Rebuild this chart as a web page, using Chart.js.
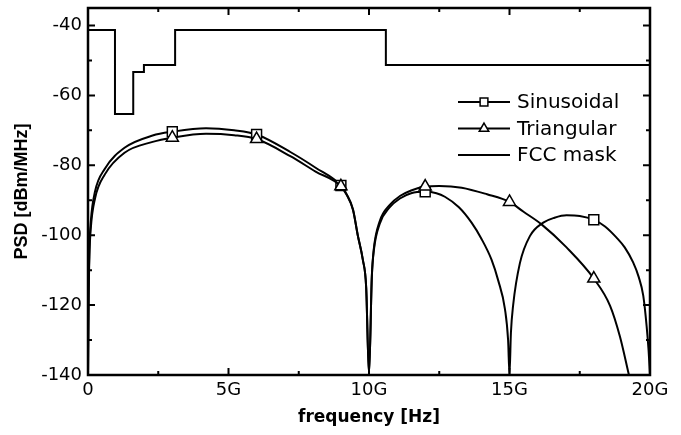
<!DOCTYPE html>
<html>
<head>
<meta charset="utf-8">
<title>PSD vs frequency</title>
<script src="https://cdn.jsdelivr.net/npm/chart.js@4"></script>
<style>
  html, body { margin: 0; padding: 0; background: #fff; }
  #wrap { width: 681px; height: 435px; }
</style>
</head>
<body>
<div id="wrap"><canvas id="psdChart" width="681" height="435"></canvas></div>
<script>
// frequencies in GHz, PSD in dBm/MHz
const sinFreq = [0, 0.02, 0.05, 0.1, 0.25, 0.6, 1.3, 2.3, 3, 4.2, 5.2, 6, 7.2, 8.1, 9,
  9.2, 9.43, 9.6, 9.78, 9.9, 10, 10.1, 10.17, 10.38, 10.74, 11.1, 11.5, 12, 12.4, 12.7, 13.2,
  13.65, 14, 14.36, 14.6, 14.84, 14.95, 15, 15.05, 15.13, 15.37, 15.73, 16.2, 16.6, 17.03,
  17.5, 18, 18.4, 18.81, 19.1, 19.4, 19.6, 19.76, 19.88, 19.95, 20];
const sinPsd = [-140, -118, -104, -96, -87.5, -81, -75, -71.5, -70.4, -69.4, -70, -71.2, -76.2, -80.7, -85.8,
  -88.2, -92.6, -100, -107, -115, -140, -112, -104.5, -96.8, -92, -89.5, -88, -87.6, -88, -89, -92,
  -96.4, -101, -107, -113, -121.2, -130, -140, -128, -120, -108, -100.2, -96.4, -95, -94.3,
  -94.5, -95.6, -97.5, -100.7, -103.5, -107.8, -112, -117.3, -126, -133, -140];

const triFreq = [0, 0.02, 0.05, 0.1, 0.25, 0.6, 1.3, 2.3, 3, 4.2, 5.2, 6, 7.2, 8.1, 9,
  9.2, 9.43, 9.6, 9.78, 9.9, 10, 10.1, 10.17, 10.38, 10.74, 11.1, 11.5, 12, 12.5, 13.3, 14.2,
  15, 15.5, 16.14, 17.03, 18, 18.58, 18.93, 19.25];
const triPsd = [-140, -120, -106, -98, -89.5, -82.6, -76.4, -73.3, -72.1, -71, -71.4, -72.5, -77.4, -81.8, -86,
  -88.4, -92.8, -100, -107, -115, -140, -112, -104, -96, -91.3, -88.8, -87.2, -86.1, -85.9, -86.4, -88.3,
  -90.5, -93.3, -96.9, -103.5, -112.4, -120.2, -129, -140];

// FCC indoor mask: band edge -> level that starts there
const maskFreq = [0, 0.96, 1.61, 1.99, 3.1, 10.6, 20];
const maskLevel = [-41.3, -65.3, -53.3, -51.3, -41.3, -51.3, -51.3];

const sinMarks = [3, 6, 9, 12, 18];
const triMarks = [3, 6, 9, 12, 15, 18];

const xTicks = [0, 5, 10, 15, 20];
const yTicks = [-140, -120, -100, -80, -60, -40];

const toPoints = (xs, ys) => xs.map((x, i) => ({ x, y: ys[i] }));
const markRadius = (marks, r) => (ctx) =>
  ctx.raw && marks.includes(ctx.raw.x) ? r : 0;

const TICK_FONT = { family: "DejaVu Sans", size: 18 };

// inward ticks on all four sides plus the frame
const frameTicks = {
  id: "frameTicks",
  afterDraw(chart) {
    const { ctx, chartArea: a, scales: { x, y } } = chart;
    ctx.save();
    ctx.strokeStyle = "#000";
    ctx.lineWidth = 2;
    ctx.beginPath();
    for (let v = 0; v <= 20; v += 2.5) {
      const px = x.getPixelForValue(v);
      const len = v % 5 === 0 ? 7 : 4;
      ctx.moveTo(px, a.bottom); ctx.lineTo(px, a.bottom - len);
      ctx.moveTo(px, a.top); ctx.lineTo(px, a.top + len);
    }
    for (let v = -140; v <= -40; v += 10) {
      const py = y.getPixelForValue(v);
      const len = v % 20 === 0 ? 7 : 4;
      ctx.moveTo(a.left, py); ctx.lineTo(a.left + len, py);
      ctx.moveTo(a.right, py); ctx.lineTo(a.right - len, py);
    }
    ctx.stroke();
    ctx.lineWidth = 2.5;
    ctx.strokeRect(a.left, a.top, a.right - a.left, a.bottom - a.top);
    ctx.restore();
  }
};

// legend: short line with the marker on it, then the label
const lineLegend = {
  id: "lineLegend",
  afterDraw(chart) {
    const { ctx, chartArea: a } = chart;
    const x0 = a.right - 192, x1 = a.right - 140;
    let yRow = a.top + 94;
    ctx.save();
    ctx.font = "20px 'DejaVu Sans'";
    ctx.textBaseline = "middle";
    ctx.fillStyle = "#000";
    chart.data.datasets.forEach((ds) => {
      ctx.strokeStyle = "#000";
      ctx.lineWidth = 2;
      ctx.beginPath();
      ctx.moveTo(x0, yRow);
      ctx.lineTo(x1, yRow);
      ctx.stroke();
      if (ds.legendMarker) {
        ctx.fillStyle = "#fff";
        ctx.lineWidth = 1.5;
        Chart.helpers.drawPoint(ctx, {
          pointStyle: ds.legendMarker, radius: 5.5, rotation: 0, borderWidth: 1.5
        }, (x0 + x1) / 2, yRow);
        ctx.fillStyle = "#000";
      }
      ctx.fillText(ds.label, x1 + 7, yRow + 1);
      yRow += 26.5;
    });
    ctx.restore();
  }
};

const chart = new Chart(document.getElementById("psdChart"), {
  type: "line",
  data: {
    datasets: [
      {
        label: "Sinusoidal",
        data: toPoints(sinFreq, sinPsd),
        borderColor: "#000",
        borderWidth: 2,
        cubicInterpolationMode: "monotone",
        pointStyle: "rect",
        pointRadius: markRadius(sinMarks, 7),
        pointBackgroundColor: "#fff",
        pointBorderColor: "#000",
        pointBorderWidth: 1.5,
        legendMarker: "rect",
        order: 1,
      },
      {
        label: "Triangular",
        data: toPoints(triFreq, triPsd),
        borderColor: "#000",
        borderWidth: 2,
        cubicInterpolationMode: "monotone",
        pointStyle: "triangle",
        pointRadius: markRadius(triMarks, 7),
        pointBackgroundColor: "#fff",
        pointBorderColor: "#000",
        pointBorderWidth: 1.5,
        legendMarker: "triangle",
        order: 0,
      },
      {
        label: "FCC mask",
        data: toPoints(maskFreq, maskLevel),
        borderColor: "#000",
        borderWidth: 2,
        stepped: "before",
        pointRadius: 0,
        order: 2,
      },
    ],
  },
  options: {
    responsive: false,
    animation: false,
    events: [],
    parsing: false,
    layout: { padding: { top: 8, right: 31, left: 0, bottom: 0 } },
    plugins: { legend: { display: false }, tooltip: { enabled: false } },
    scales: {
      x: {
        type: "linear",
        min: 0,
        max: 20,
        afterBuildTicks: (s) => { s.ticks = xTicks.map((value) => ({ value })); },
        afterFit: (s) => { s.height = 60; s.paddingLeft = 0; s.paddingRight = 0; },
        grid: { display: false, drawTicks: false },
        border: { display: false },
        ticks: {
          color: "#000",
          font: TICK_FONT,
          padding: 5,
          maxRotation: 0,
          callback: (v) => (v === 0 ? "0" : v + "G"),
        },
        title: {
          display: true,
          text: "frequency [Hz]",
          color: "#000",
          font: { family: "DejaVu Sans", size: 17, weight: "bold" },
          padding: { top: 0, bottom: 7 },
        },
      },
      y: {
        type: "linear",
        min: -140,
        max: -35,
        afterBuildTicks: (s) => { s.ticks = yTicks.map((value) => ({ value })); },
        afterFit: (s) => { s.width = 88; s.paddingTop = 0; s.paddingBottom = 0; },
        grid: { display: false, drawTicks: false },
        border: { display: false },
        ticks: { color: "#000", font: TICK_FONT, padding: 6 },
        title: {
          display: true,
          text: "PSD [dBm/MHz]",
          color: "#000",
          font: { family: "Liberation Sans", size: 18, weight: "bold" },
          padding: { top: 11, bottom: 0 },
        },
      },
    },
  },
  plugins: [frameTicks, lineLegend],
});
</script>
</body>
</html>
